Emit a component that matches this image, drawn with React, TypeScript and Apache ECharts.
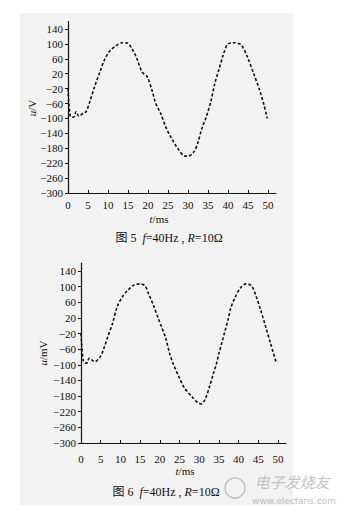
import React, { useEffect, useRef } from "react";
import * as echarts from "echarts";

// Figure 5 (u / V)
const T1 = [0, 0.6, 1.4, 2.0, 2.7, 3.75, 4.5, 5.46, 6.63, 7.99, 8.91, 10.3, 11.9, 13.5, 14.9, 15.95, 17.2, 18.5, 19.8, 21.1, 21.9, 23.15, 24.4, 25.65, 27.6, 29.3, 30.1, 31.5, 32.4, 33.5, 34.6, 35.7, 36.7, 37.7, 38.8, 40, 41.7, 43.3, 44.8, 46.4, 47.9, 49, 49.8];
const V1 = [-20, -95, -97, -82, -94, -86, -82, -55, -15, 25, 52, 79, 94, 103, 102, 88, 61, 25, 12, -28, -59, -86, -122, -149, -183, -201, -201, -189, -167, -126, -95, -55, -6, 30, 70, 100, 103, 97, 66, 21, -24, -64, -100];

// Figure 6 (u / mV)
const T2 = [0, 0.6, 1.4, 2.1, 3.5, 4.8, 5.8, 6.8, 8.0, 9.2, 10.5, 11.8, 13.4, 15, 16.25, 17.1, 18.35, 19.6, 20.4, 21.5, 22.5, 23.5, 25, 26.3, 28.1, 29.8, 30.55, 31.6, 32.6, 33.6, 34.3, 35, 35.8, 36.5, 37.3, 38.0, 39.0, 40.4, 41.9, 43.3, 44.5, 45.6, 47.0, 48.1, 49.6];
const V2 = [-20, -90, -96, -83, -92, -81, -58, -28, 6, 49, 74, 90, 104, 107, 102, 83, 53, 19, -2, -32, -71, -100, -134, -160, -181, -198, -200, -186, -156, -122, -100, -71, -41, -15, 15, 45, 70, 96, 107, 102, 74, 40, -7, -45, -96];

const X_TICKS = [0, 5, 10, 15, 20, 25, 30, 35, 40, 45, 50];
const Y_TICKS = [-300, -260, -220, -180, -140, -100, -60, -20, 20, 60, 100, 140];

const SERIF = "'Liberation Serif', 'Times New Roman', 'Noto Sans CJK SC', serif";
const CJK = "'Liberation Serif', 'Noto Sans CJK SC', serif";

const fmt = (v: number) => String(v).replace("-", "\u2212");

function xAxisCfg(gridIndex: number, margin: number) {
  return {
    type: "value",
    gridIndex,
    min: 0,
    max: 52,
    axisLine: { show: true, onZero: false, lineStyle: { color: "#111", width: 1.2 } },
    axisTick: { show: true, inside: true, length: 3, customValues: X_TICKS, lineStyle: { color: "#111" } },
    axisLabel: {
      customValues: X_TICKS,
      margin,
      fontFamily: SERIF,
      fontSize: 11,
      color: "#111",
      formatter: fmt,
    },
    splitLine: { show: false },
  };
}

function yAxisCfg(gridIndex: number) {
  return {
    type: "value",
    gridIndex,
    min: -300,
    max: 160,
    axisLine: { show: true, onZero: false, lineStyle: { color: "#111", width: 1.2 } },
    axisTick: { show: true, inside: false, length: 3, customValues: Y_TICKS, lineStyle: { color: "#111" } },
    axisLabel: {
      customValues: Y_TICKS,
      margin: 5,
      fontFamily: SERIF,
      fontSize: 11,
      color: "#111",
      formatter: fmt,
    },
    splitLine: { show: false },
  };
}

export default function App() {
  const ref = useRef<HTMLDivElement>(null);
  useEffect(() => {
    if (!ref.current) return;
    const chart = echarts.init(ref.current, undefined, { renderer: "svg" });
    const lineStyle = { color: "#111", width: 1.6, type: [3, 2] as any };
    const italic = { fontStyle: "italic", fontFamily: SERIF, fontSize: 11, fill: "#111" } as any;
    const italicCap = { fontStyle: "italic", fontFamily: SERIF, fontSize: 12, fill: "#111" } as any;
    chart.setOption({
      animation: false,
      backgroundColor: "#ffffff",
      grid: [
        { left: 68, top: 21.5, width: 208, height: 171.5, containLabel: false, outerBoundsMode: "none" },
        { left: 81, top: 263.2, width: 204.9, height: 179.8, containLabel: false, outerBoundsMode: "none" },
      ],
      xAxis: [xAxisCfg(0, 6), xAxisCfg(1, 10)],
      yAxis: [yAxisCfg(0), yAxisCfg(1)],
      series: [
        {
          type: "line",
          xAxisIndex: 0,
          yAxisIndex: 0,
          data: T1.map((t, i) => [t, V1[i]]),
          showSymbol: false,
          smooth: 0.3,
          lineStyle,
        },
        {
          type: "line",
          xAxisIndex: 1,
          yAxisIndex: 1,
          data: T2.map((t, i) => [t, V2[i]]),
          showSymbol: false,
          smooth: 0.3,
          lineStyle,
        },
      ],
      graphic: [
        { type: "rect", z: -10, shape: { x: 20, y: 13, width: 273, height: 492 }, style: { fill: "#f2f2f2" } },
        {
          type: "text", x: 32, y: 108, rotation: Math.PI / 2,
          style: { text: "{i|u}/V", rich: { i: italic }, fontFamily: SERIF, fontSize: 11, fill: "#111", align: "center", verticalAlign: "middle" },
        },
        {
          type: "text", x: 43, y: 353, rotation: Math.PI / 2,
          style: { text: "{i|u}/mV", rich: { i: italic }, fontFamily: SERIF, fontSize: 11, fill: "#111", align: "center", verticalAlign: "middle" },
        },
        {
          type: "text", x: 159, y: 219,
          style: { text: "{i|t}/ms", rich: { i: italic }, fontFamily: SERIF, fontSize: 11, fill: "#111", align: "center", verticalAlign: "middle" },
        },
        {
          type: "text", x: 185, y: 471,
          style: { text: "{i|t}/ms", rich: { i: italic }, fontFamily: SERIF, fontSize: 11, fill: "#111", align: "center", verticalAlign: "middle" },
        },
        {
          type: "text", x: 169, y: 238,
          style: { text: "图 5  {i|f}=40Hz , {i|R}=10Ω", rich: { i: italicCap }, fontFamily: CJK, fontSize: 12, fill: "#111", align: "center", verticalAlign: "middle" },
        },
        {
          type: "text", x: 166, y: 492,
          style: { text: "图 6  {i|f}=40Hz , {i|R}=10Ω", rich: { i: italicCap }, fontFamily: CJK, fontSize: 12, fill: "#111", align: "center", verticalAlign: "middle" },
        },
        { type: "circle", shape: { cx: 235, cy: 488, r: 10 }, style: { fill: "none", stroke: "#b8b8b8", lineWidth: 1.2 } },
        {
          type: "text", x: 292, y: 481,
          style: { text: "电子发烧友", fontFamily: "'Noto Sans CJK SC', sans-serif", fontSize: 15, fontStyle: "italic", fill: "#c4c4c4", align: "center", verticalAlign: "middle" },
        },
        {
          type: "text", x: 294, y: 501,
          style: { text: "www.elecfans.com", fontFamily: "'DejaVu Sans', sans-serif", fontSize: 9, fill: "#c0c0c0", align: "center", verticalAlign: "middle" },
        },
      ],
    });
    return () => chart.dispose();
  }, []);
  return <div ref={ref} style={{ position: "absolute", left: 0, top: 0, width: 355, height: 517 }} />;
}
